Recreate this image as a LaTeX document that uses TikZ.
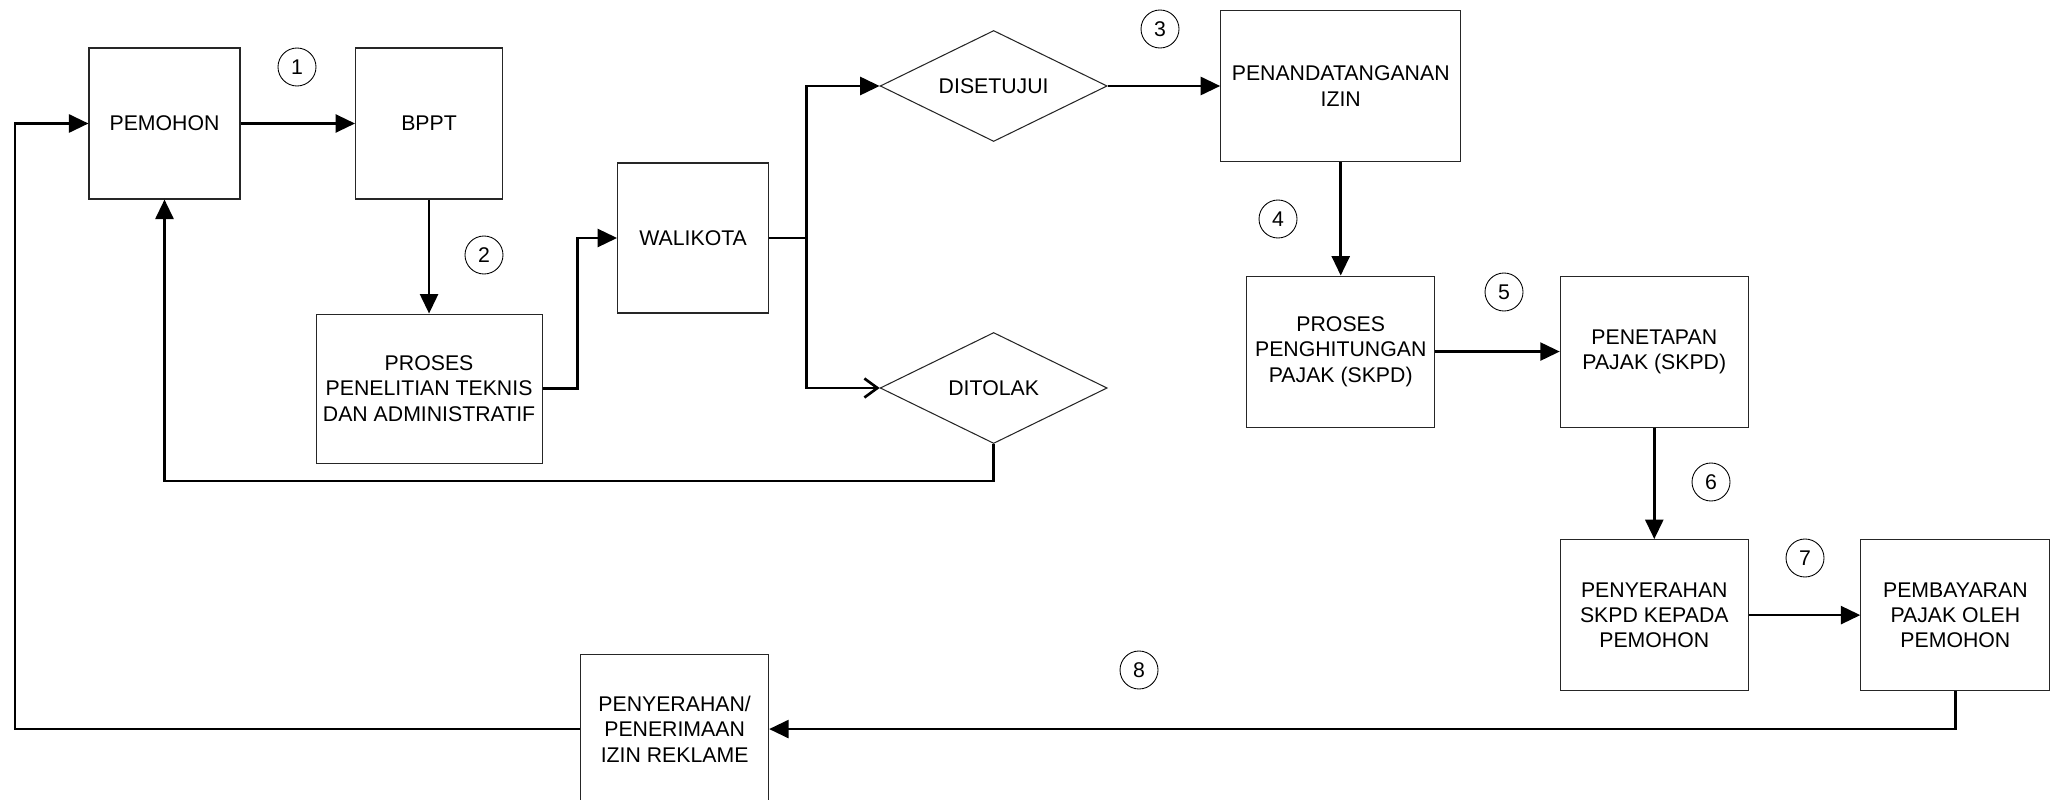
\documentclass[tikz,border=0pt]{standalone}
\usepackage{fontspec}
\setmainfont{Liberation Sans}
\usepackage{tikz}
\usetikzlibrary{positioning}
\usetikzlibrary{shapes.geometric}
\usetikzlibrary{arrows.meta}

\begin{document}
\begin{tikzpicture}[align=center, font=\fontsize{12.1}{14.4}\selectfont,
	boxnode/.style={rectangle,draw=black!85,line width=0.6pt,inner sep=2pt,minimum width=3.02cm,minimum height=3.02cm},
	decnode/.style={diamond,draw=black!85,line width=0.6pt,inner sep=2pt,shape aspect=2,minimum width=4.54cm,minimum height=2.22cm},
	numnode/.style={circle,draw=black,line width=0.5pt,inner sep=0pt,minimum size=0.76cm},
	arr/.style={line width=1.5pt,-{Triangle[length=0.39cm,width=0.36cm]}},
	barb/.style={line width=1.5pt,-{Straight Barb[length=0.26cm,width=0.38cm]}}]
		\useasboundingbox (0,0) rectangle (41.06,-16);
		\node[boxnode] (pemohon) at (3.29,-2.47) {PEMOHON};
		\node[boxnode,minimum width=2.94cm] (bppt) [right = 2.29cm of pemohon] {BPPT};
		\node[boxnode,minimum width=4.52cm,minimum height=2.98cm] (penelitian) [below = 2.28cm of bppt] {PROSES\\PENELITIAN TEKNIS\\DAN ADMINISTRATIF};
		\node[boxnode,minimum height=3cm] (walikota) [above right = 0cm and 1.49cm of penelitian] {WALIKOTA};
		\node[decnode] (disetujui) [right = 2.21cm of walikota, yshift=3.04cm] {DISETUJUI};
		\node[decnode] (ditolak) [right = 2.21cm of walikota, yshift=-3cm] {DITOLAK};
		\node[boxnode,minimum width=4.8cm] (penandatanganan) [right = 2.25cm of disetujui] {PENANDATANGANAN\\IZIN};
		\node[boxnode,minimum width=3.76cm] (penghitungan) [below = 2.27cm of penandatanganan] {PROSES\\PENGHITUNGAN\\PAJAK (SKPD)};
		\node[boxnode,minimum width=3.76cm] (penetapan) [right = 2.49cm of penghitungan] {PENETAPAN\\PAJAK (SKPD)};
		\node[boxnode,minimum width=3.76cm] (penyerahan) [below = 2.23cm of penetapan] {PENYERAHAN\\SKPD KEPADA\\PEMOHON};
		\node[boxnode,minimum width=3.78cm] (pembayaran) [right = 2.23cm of penyerahan] {PEMBAYARAN\\PAJAK OLEH\\PEMOHON};
		\node[boxnode,minimum width=3.76cm,minimum height=3cm] (izin) [below = 6.8cm of walikota.south east, anchor=north east] {PENYERAHAN/\\PENERIMAAN\\IZIN REKLAME};
		\node[numnode] (n1) at (5.94,-1.34) {1};
		\node[numnode] (n2) at (9.68,-5.1) {2};
		\node[numnode] (n3) at (23.2,-0.58) {3};
		\node[numnode] (n4) at (25.56,-4.38) {4};
		\node[numnode] (n5) at (30.08,-5.84) {5};
		\node[numnode] (n6) at (34.22,-9.64) {6};
		\node[numnode] (n7) at (36.1,-11.16) {7};
		\node[numnode] (n8) at (22.78,-13.4) {8};
		\draw[arr] (pemohon) -- (bppt);
		\draw[arr] (bppt) -- (penelitian);
		\draw[arr] (penelitian.east) -- ++(0.7,0) |- (walikota.west);
		\draw[arr] (walikota.east) -- ++(0.75,0) |- (disetujui.west);
		\draw[barb] (walikota.east) -- ++(0.75,0) |- (ditolak.west);
		\draw[arr] (ditolak.south) -- ++(0,-0.74) -| (pemohon.south);
		\draw[arr] (disetujui) -- (penandatanganan);
		\draw[arr] (penandatanganan) -- (penghitungan);
		\draw[arr] (penghitungan) -- (penetapan);
		\draw[arr] (penetapan) -- (penyerahan);
		\draw[arr] (penyerahan) -- (pembayaran);
		\draw[arr] (pembayaran.south) |- (izin.east);
		\draw[arr] (izin.west) -- ++(-11.3,0) |- (pemohon.west);
	\end{tikzpicture}
\end{document}
